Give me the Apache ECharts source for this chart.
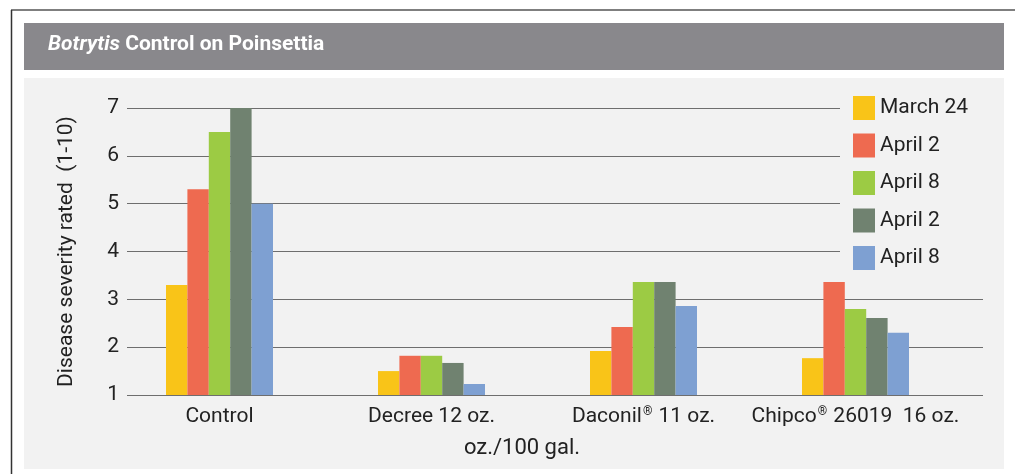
<!DOCTYPE html>
<html>
<head>
<meta charset="utf-8">
<script src="https://cdn.jsdelivr.net/npm/echarts@6/dist/echarts.min.js"></script>
<style>
  html, body { margin: 0; padding: 0; background: #fff; }
  #chart { width: 1015px; height: 474px; }
</style>
</head>
<body>
<div id="chart"></div>
<script>
// data
const categories = ['Control', 'Decree 12 oz.', 'Daconil® 11 oz.', 'Chipco® 26019  16 oz.'];
const seriesNames = ['March 24', 'April 2', 'April 8', 'April 2 ', 'April 8 '];
const legendLabels = ['March 24', 'April 2', 'April 8', 'April 2', 'April 8'];
const march24 = [3.3, 1.5, 1.92, 1.77];
const april2a = [5.3, 1.82, 2.42, 3.36];
const april8a = [6.5, 1.82, 3.36, 2.8];
const april2b = [7.0, 1.67, 3.36, 2.61];
const april8b = [5.0, 1.23, 2.86, 2.3];
const yTicks = [1, 2, 3, 4, 5, 6, 7];

const colors = ['#f9c418', '#ee6a50', '#9ccb44', '#708270', '#7ea0d2'];
const values = [march24, april2a, april8a, april2b, april8b];
const FONT = 'Roboto, sans-serif';

let chart = echarts.init(document.getElementById('chart'));

// category label with a small raised ®
function catLabel(v) {
  let parts = v.split('®');
  if (parts.length === 1) return '{a|' + v + '}';
  return '{a|' + parts[0] + '}{s|®}{a|' + parts[1] + '}';
}

let option = {
  animation: false,
  textStyle: { fontFamily: FONT },
  title: {
    text: '{i|Botrytis} Control on Poinsettia',
    left: 48,
    top: 34,
    padding: 0,
    textStyle: {
      color: '#fff',
      fontWeight: 'bold',
      fontSize: 21,
      fontFamily: FONT,
      rich: {
        i: { color: '#fff', fontWeight: 'bold', fontStyle: 'italic', fontSize: 21, fontFamily: FONT }
      }
    }
  },
  graphic: [
    { type: 'rect', z: -100, shape: { x: 24, y: 23, width: 980, height: 47 }, style: { fill: '#89888c' } },
    { type: 'rect', z: -100, shape: { x: 24, y: 78, width: 980, height: 391 }, style: { fill: '#f2f2f2' } },
    { type: 'line', z: -100, shape: { x1: 11, y1: 10, x2: 1015, y2: 10 }, style: { stroke: '#555', lineWidth: 1.5 } },
    { type: 'line', z: -100, shape: { x1: 11.5, y1: 10, x2: 11.5, y2: 474 }, style: { stroke: '#333', lineWidth: 1.5 } },
    {
      type: 'text', x: 522, y: 448,
      style: { text: 'oz./100 gal.', fill: '#222', fontSize: 22, fontFamily: FONT, align: 'center', verticalAlign: 'middle' }
    }
  ],
  legend: {
    orient: 'vertical',
    left: 840,
    top: 86,
    padding: [10, 20, 10, 13],
    backgroundColor: '#f2f2f2',
    itemWidth: 22,
    itemHeight: 24,
    itemGap: 13.5,
    icon: 'rect',
    data: seriesNames,
    formatter: name => legendLabels[seriesNames.indexOf(name)],
    textStyle: { fontSize: 21, color: '#222', fontFamily: FONT },
    z: 5
  },
  grid: [
    // gridlines / value labels
    { left: 127, right: 32, top: 108, bottom: 79 },
    // bars
    { left: 113.5, right: 53.5, top: 108, bottom: 79 }
  ],
  xAxis: [
    { type: 'category', gridIndex: 0, data: categories, show: false },
    {
      type: 'category', gridIndex: 1, data: categories,
      axisLine: { show: false },
      axisTick: { show: false },
      axisLabel: {
        interval: 0,
        margin: 11,
        formatter: catLabel,
        rich: {
          a: { fontSize: 21, color: '#222', fontFamily: FONT },
          s: { fontSize: 12, color: '#222', fontFamily: FONT, padding: [0, 1, 9, 1] }
        }
      }
    }
  ],
  yAxis: [
    {
      type: 'value', gridIndex: 0, min: 1, max: 7, interval: 1,
      name: 'Disease severity rated  (1-10)',
      nameLocation: 'middle',
      nameGap: 50,
      nameTextStyle: { fontSize: 21, color: '#222', fontFamily: FONT },
      axisLine: { show: false },
      axisTick: { show: false },
      axisLabel: {
        margin: 8, fontSize: 21, color: '#222', fontFamily: FONT,
        formatter: v => yTicks.indexOf(v) >= 0 ? String(v) : ''
      },
      splitLine: { show: true, lineStyle: { color: '#6e6e6e', width: 1 } }
    },
    {
      type: 'value', gridIndex: 1, min: 1, max: 7, interval: 1,
      show: false
    }
  ],
  series: seriesNames.map((name, i) => ({
    name: name,
    type: 'bar',
    xAxisIndex: 1,
    yAxisIndex: 1,
    data: values[i],
    barWidth: 21.4,
    barGap: '0%',
    itemStyle: { color: colors[i] },
    z: 3
  }))
};

chart.setOption(option);
</script>
</body>
</html>
